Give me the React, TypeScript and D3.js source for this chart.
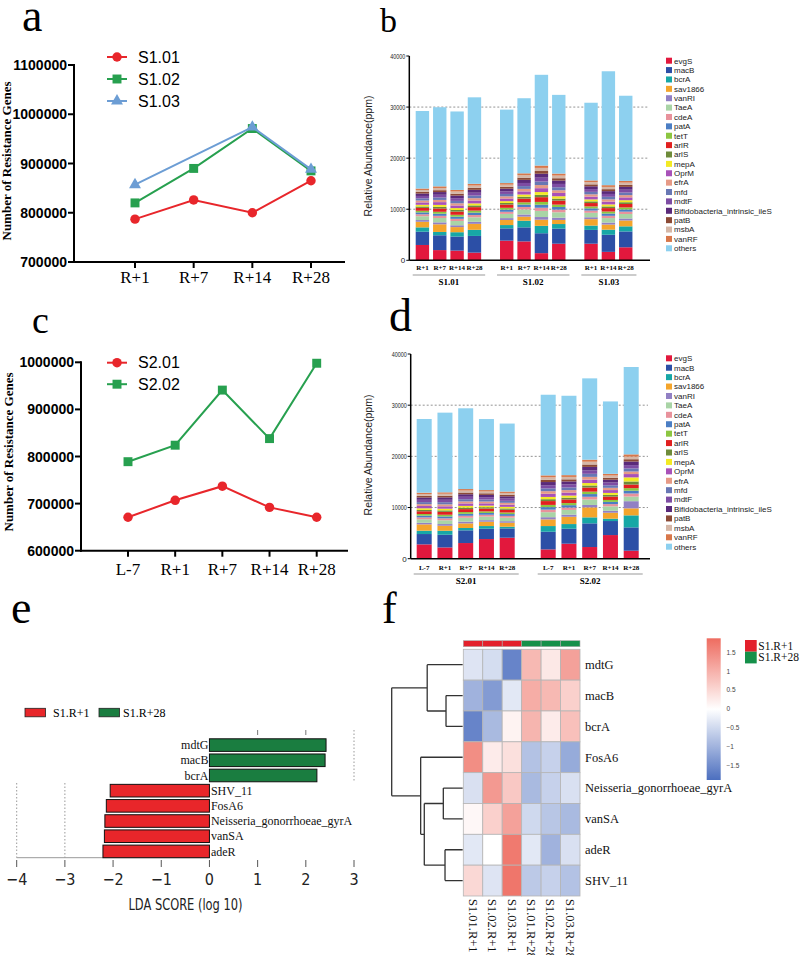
import React from "react";
import * as d3 from "d3";

const SERIF = "'Liberation Serif','Times New Roman',Times,serif";
const SANS = "'Liberation Sans',Arial,Helvetica,sans-serif";
const NARROW = "'Liberation Sans Narrow','DejaVu Sans Condensed','Roboto Condensed',Roboto,sans-serif";

// ---------- Panel a ----------
const A_TIMES = ["R+1", "R+7", "R+14", "R+28"];
const A_S101 = [787000, 826000, 800000, 865000];
const A_S102 = [820000, 890000, 971000, 885000];
const A_S103: (number | null)[] = [857000, null, 974000, 888000];
const A_YTICKS = [700000, 800000, 900000, 1000000, 1100000];

// ---------- Panel c ----------
const C_TIMES = ["L-7", "R+1", "R+7", "R+14", "R+28"];
const C_S201 = [671000, 707000, 737000, 692000, 671000];
const C_S202 = [789000, 824000, 941000, 838000, 998000];
const C_YTICKS = [600000, 700000, 800000, 900000, 1000000];

// ---------- Stacked bars (b, d) ----------
const GENES = ["evgS", "macB", "bcrA", "sav1866", "vanRI", "TaeA", "cdeA", "patA", "tetT", "arlR", "arlS", "mepA", "OprM", "efrA", "mfd", "mdtF", "Bifidobacteria_intrinsic_ileS", "patB", "msbA", "vanRF", "others"];
const GENE_COLORS = ["#e2183d", "#2c4fa6", "#17a7a6", "#f4a52c", "#9180c4", "#a9d4a6", "#e8929c", "#4b7ec4", "#8cc641", "#e1201f", "#6e8b3a", "#f3ea23", "#a851b8", "#e69a86", "#6877b4", "#7d4ca3", "#5a2a7a", "#8b4a36", "#d5b7a7", "#d8774a", "#8dd0ef"];
const BAR_YTICKS = [0, 10000, 20000, 30000, 40000];
const BAR_GRID = [10000, 20000, 30000];

// Panel b
const B_GROUPS = ["S1.01", "S1.02", "S1.03"];
const B_SAMPLE_GROUP = ["S1.01", "S1.01", "S1.01", "S1.01", "S1.02", "S1.02", "S1.02", "S1.02", "S1.03", "S1.03", "S1.03"];
const B_SAMPLE_TIME = ["R+1", "R+7", "R+14", "R+28", "R+1", "R+7", "R+14", "R+28", "R+1", "R+14", "R+28"];
const B_EVGS = [3000, 2000, 1900, 1500, 3850, 3700, 1400, 3250, 3250, 1650, 2550];
const B_MACB = [2600, 2900, 2750, 3270, 2400, 2750, 3900, 2950, 2700, 3350, 3100];
const B_BCRA = [850, 650, 850, 1200, 650, 1300, 1450, 900, 850, 1000, 1000];
const B_SAV1866 = [1100, 1500, 1000, 1170, 1000, 800, 1200, 800, 1250, 1000, 1150];
const B_VANRI = [330, 380, 360, 400, 360, 420, 520, 450, 380, 390, 390];
const B_TAEA = [750, 850, 840, 880, 830, 980, 1200, 1050, 870, 880, 880];
const B_CDEA = [380, 430, 420, 450, 410, 490, 620, 520, 440, 440, 450];
const B_PATA = [370, 420, 420, 460, 420, 480, 600, 520, 430, 450, 440];
const B_TETT = [320, 370, 370, 400, 360, 430, 540, 460, 380, 390, 390];
const B_ARLR = [560, 650, 620, 680, 630, 730, 930, 790, 660, 670, 680];
const B_ARLS = [280, 320, 320, 340, 310, 370, 460, 390, 330, 330, 340];
const B_MEPA = [330, 380, 370, 390, 360, 430, 540, 460, 380, 390, 390];
const B_OPRM = [470, 540, 520, 570, 520, 610, 760, 650, 550, 550, 560];
const B_EFRA = [370, 430, 420, 450, 420, 490, 610, 520, 440, 440, 440];
const B_MFD = [420, 480, 470, 510, 470, 550, 690, 590, 490, 500, 500];
const B_MDTF = [470, 530, 530, 560, 520, 610, 760, 650, 540, 560, 560];
const B_BIFIDO = [470, 530, 520, 570, 520, 610, 770, 660, 550, 550, 560];
const B_PATB = [330, 370, 370, 400, 360, 430, 530, 460, 380, 390, 390];
const B_MSBA = [370, 430, 420, 440, 420, 490, 610, 520, 440, 440, 440];
const B_VANRF = [280, 320, 310, 340, 310, 360, 460, 390, 330, 340, 340];
const B_OTHERS = [15180, 15490, 15360, 16930, 14380, 14700, 17770, 15410, 15210, 22300, 16670];

// Panel d
const D_GROUPS = ["S2.01", "S2.02"];
const D_SAMPLE_GROUP = ["S2.01", "S2.01", "S2.01", "S2.01", "S2.01", "S2.02", "S2.02", "S2.02", "S2.02", "S2.02"];
const D_SAMPLE_TIME = ["L-7", "R+1", "R+7", "R+14", "R+28", "L-7", "R+1", "R+7", "R+14", "R+28"];
const D_EVGS = [2800, 2200, 3060, 3840, 4100, 1820, 2930, 2280, 4620, 1560];
const D_MACB = [2020, 2480, 2480, 2020, 1820, 3450, 2930, 4630, 2740, 4560];
const D_BCRA = [650, 780, 460, 520, 330, 1110, 910, 1170, 460, 2350];
const D_SAV1866 = [1240, 980, 900, 850, 780, 1300, 1430, 1950, 1170, 1370];
const D_VANRI = [300, 330, 340, 300, 300, 430, 410, 470, 380, 1400];
const D_TAEA = [700, 740, 760, 700, 690, 980, 920, 1060, 860, 900];
const D_CDEA = [360, 380, 390, 360, 350, 500, 470, 540, 440, 600];
const D_PATA = [350, 370, 380, 350, 350, 490, 460, 530, 430, 550];
const D_TETT = [310, 330, 340, 310, 310, 430, 410, 470, 380, 500];
const D_ARLR = [540, 570, 580, 540, 530, 750, 710, 810, 660, 700];
const D_ARLS = [260, 280, 290, 270, 260, 370, 350, 400, 330, 600];
const D_MEPA = [320, 330, 340, 310, 310, 440, 410, 470, 390, 800];
const D_OPRM = [450, 470, 480, 450, 440, 620, 590, 670, 550, 650];
const D_EFRA = [360, 380, 390, 350, 350, 500, 470, 540, 440, 500];
const D_MFD = [400, 420, 430, 400, 390, 550, 520, 600, 490, 600];
const D_MDTF = [450, 470, 480, 450, 440, 620, 590, 670, 550, 650];
const D_BIFIDO = [450, 470, 490, 450, 440, 620, 590, 680, 550, 700];
const D_PATB = [310, 330, 340, 310, 310, 430, 410, 470, 380, 450];
const D_MSBA = [360, 380, 390, 360, 350, 500, 470, 540, 440, 500];
const D_VANRF = [270, 280, 290, 270, 270, 370, 350, 400, 330, 450];
const D_OTHERS = [14400, 15570, 15780, 13880, 13290, 15760, 15510, 15890, 14140, 17070];

// ---------- Panel e ----------
const E_FEATURES = ["mdtG", "macB", "bcrA", "SHV_11", "FosA6", "Neisseria_gonorrhoeae_gyrA", "vanSA", "adeR"];
const E_LDA = [2.42, 2.40, 2.23, -2.06, -2.14, -2.17, -2.18, -2.21];
const E_CLASS = ["S1.R+28", "S1.R+28", "S1.R+28", "S1.R+1", "S1.R+1", "S1.R+1", "S1.R+1", "S1.R+1"];
const E_CLASSES = ["S1.R+1", "S1.R+28"];
const E_TICKS = [-4, -3, -2, -1, 0, 1, 2, 3];

// ---------- Panel f ----------
const F_GENES = ["mdtG", "macB", "bcrA", "FosA6", "Neisseria_gonorrhoeae_gyrA", "vanSA", "adeR", "SHV_11"];
const F_SAMPLES = ["S1.01.R+1", "S1.02.R+1", "S1.03.R+1", "S1.01.R+28", "S1.02.R+28", "S1.03.R+28"];
const F_SAMPLE_GROUP = ["S1.R+1", "S1.R+1", "S1.R+1", "S1.R+28", "S1.R+28", "S1.R+28"];
const F_Z_MDTG = [-0.35, -0.45, -1.6, 0.9, 0.3, 1.2];
const F_Z_MACB = [-1.0, -1.3, -0.3, 1.05, 0.9, 0.6];
const F_Z_BCRA = [-1.6, -0.9, 0.15, 0.95, 0.25, 0.8];
const F_Z_FOSA6 = [1.45, 0.25, 0.4, -0.8, -0.6, -1.1];
const F_Z_NEISS = [-0.4, 1.3, 0.7, -0.9, -0.6, -0.4];
const F_Z_VANSA = [0.1, 0.6, 1.2, -0.5, -0.75, -0.9];
const F_Z_ADER = [-0.3, 0.0, 1.7, -0.3, -1.0, -0.4];
const F_Z_SHV11 = [0.5, -0.35, 1.75, -0.7, -0.6, -0.8];
const F_LEGEND_TICKS = [-1.5, -1, -0.5, 0, 0.5, 1, 1.5];
// dendrogram merge heights (relative)
const F_TREE = {
  h: 1.0,
  children: [
    { h: 0.5, children: [{ name: "mdtG", h: 0 }, { h: 0.235, children: [{ name: "macB", h: 0 }, { name: "bcrA", h: 0 }] }] },
    {
      h: 0.592,
      children: [
        { name: "FosA6", h: 0 },
        {
          h: 0.541,
          children: [
            { h: 0.273, children: [{ name: "Neisseria_gonorrhoeae_gyrA", h: 0 }, { name: "vanSA", h: 0 }] },
            { h: 0.249, children: [{ name: "adeR", h: 0 }, { name: "SHV_11", h: 0 }] },
          ],
        },
      ],
    },
  ],
};

const RED = "#e8262b";
const GREEN = "#27a04f";
const BLUE = "#6c9dd4";

type Series = { name: string; values: (number | null)[]; color: string; shape: string };

function Marker({ shape, x, y, color }: { shape: string; x: number; y: number; color: string }) {
  const sym = shape === "circle" ? d3.symbolCircle : shape === "square" ? d3.symbolSquare : d3.symbolTriangle;
  const size = shape === "circle" ? 70 : shape === "square" ? 80 : 62;
  return <path d={d3.symbol().type(sym).size(size)() as string} transform={`translate(${x},${y})`} fill={color} />;
}

function LinePanel(p: {
  times: string[];
  series: Series[];
  yTicks: number[];
  xRange: [number, number];
  yRange: [number, number];
  axisX: number;
  axisEnd: number;
  xLabelY: number;
  legendY: number;
  legendStep: number;
  titleX: number;
  titleY: number;
}) {
  const x = d3.scalePoint<string>().domain(p.times).range(p.xRange);
  const dom = d3.extent(p.yTicks) as [number, number];
  const y = d3.scaleLinear().domain(dom).range(p.yRange);
  const y0 = y(dom[0]);
  const line = d3
    .line<{ t: string; v: number }>()
    .x((d) => x(d.t) as number)
    .y((d) => y(d.v));
  return (
    <g>
      {p.series.map((s) => {
        const pts = p.times.map((t, i) => ({ t, v: s.values[i] })).filter((d) => d.v != null) as { t: string; v: number }[];
        return (
          <g key={s.name}>
            <path d={line(pts) as string} fill="none" stroke={s.color} strokeWidth={2} />
            {pts.map((d) => (
              <Marker key={d.t} shape={s.shape} x={x(d.t) as number} y={y(d.v)} color={s.color} />
            ))}
          </g>
        );
      })}
      <line x1={p.axisX} x2={p.axisX} y1={y(dom[1]) - 1} y2={y0 + 1} stroke="#000" strokeWidth={2} />
      <line x1={p.axisX - 1} x2={p.axisEnd} y1={y0} y2={y0} stroke="#000" strokeWidth={2} />
      {p.yTicks.map((t) => (
        <g key={t}>
          <line x1={p.axisX - 6} x2={p.axisX} y1={y(t)} y2={y(t)} stroke="#000" strokeWidth={2} />
          <text x={p.axisX - 7} y={y(t)} dy="0.36em" textAnchor="end" fontFamily={SANS} fontWeight="bold" fontSize={14}>
            {t}
          </text>
        </g>
      ))}
      {p.times.map((t) => (
        <g key={t}>
          <line x1={x(t)} x2={x(t)} y1={y0} y2={y0 + 6} stroke="#000" strokeWidth={2} />
          <text x={x(t)} y={p.xLabelY} textAnchor="middle" fontFamily={SERIF} fontSize={17}>
            {t}
          </text>
        </g>
      ))}
      <text
        transform={`translate(${p.titleX},${p.titleY}) rotate(-90)`}
        textAnchor="middle"
        fontFamily={SERIF}
        fontWeight="bold"
        fontSize={13}
      >
        Number of Resistance Genes
      </text>
      {p.series.map((s, i) => {
        const ly = p.legendY + i * p.legendStep;
        return (
          <g key={s.name}>
            <line x1={107} x2={127} y1={ly} y2={ly} stroke={s.color} strokeWidth={2} />
            <Marker shape={s.shape} x={117} y={ly} color={s.color} />
            <text x={138} y={ly} dy="0.36em" fontFamily={SANS} fontSize={16}>
              {s.name}
            </text>
          </g>
        );
      })}
    </g>
  );
}

function StackPanel(p: {
  groups: string[];
  sampleGroup: string[];
  sampleTime: string[];
  geneValues: number[][];
  yRange: [number, number];
  axisX: number;
  axisEnd: number;
  x0: number;
  step: number;
  barW: number;
  gapExtra: number;
  timeLabelY: number;
  underlineY: number;
  groupLabelY: number;
  legendY0: number;
  legendStep: number;
  titleY: number;
}) {
  const y = d3.scaleLinear().domain([0, 40000]).range(p.yRange);
  const slot = d3.scaleLinear().domain([0, 1]).range([p.x0, p.x0 + p.step]);
  const rows = p.sampleTime.map((_, i) => {
    const r: Record<string, number> = {};
    GENES.forEach((g, gi) => (r[g] = p.geneValues[gi][i]));
    return r;
  });
  const stacked = d3.stack<Record<string, number>>().keys(GENES)(rows);
  const xs = p.sampleTime.map((_, i) => slot(i + p.groups.indexOf(p.sampleGroup[i]) * p.gapExtra));
  const y0 = y(0);
  return (
    <g>
      {BAR_GRID.map((g) => (
        <line key={g} x1={p.axisX} x2={p.axisEnd - 2} y1={y(g)} y2={y(g)} stroke="#777" strokeWidth={0.8} strokeDasharray="2,2" />
      ))}
      {stacked.map((layer, li) => (
        <g key={GENES[li]} fill={GENE_COLORS[li]}>
          {layer.map((seg, i) => (
            <rect key={i} x={xs[i]} width={p.barW} y={y(seg[1])} height={Math.max(0, y(seg[0]) - y(seg[1]))} />
          ))}
        </g>
      ))}
      <line x1={p.axisX} x2={p.axisX} y1={y(40000)} y2={y0} stroke="#000" strokeWidth={1.5} />
      <line x1={p.axisX} x2={p.axisEnd} y1={y0} y2={y0} stroke="#000" strokeWidth={1.5} />
      {BAR_YTICKS.map((t) => (
        <g key={t}>
          <line x1={p.axisX - 3} x2={p.axisX} y1={y(t)} y2={y(t)} stroke="#000" strokeWidth={1} />
          <text
            x={p.axisX - 4}
            y={y(t)}
            dy="0.35em"
            textAnchor="end"
            fontFamily={SANS}
            fontSize={8}
            fill="#222"
            {...(String(t).length > 1 ? { textLength: 15, lengthAdjust: "spacingAndGlyphs" } : {})}
          >
            {t}
          </text>
        </g>
      ))}
      {p.sampleTime.map((t, i) => (
        <text key={i} x={xs[i] + p.barW / 2} y={p.timeLabelY} textAnchor="middle" fontFamily={SERIF} fontWeight="bold" fontSize={7}>
          {t}
        </text>
      ))}
      {p.groups.map((g) => {
        const idx = p.sampleGroup.map((sg, i) => (sg === g ? i : -1)).filter((i) => i >= 0);
        const left = xs[idx[0]] - 3;
        const right = xs[idx[idx.length - 1]] + p.barW + 4;
        return (
          <g key={g}>
            <line x1={left} x2={right} y1={p.underlineY} y2={p.underlineY} stroke="#999" strokeWidth={1.2} />
            <text x={(left + right) / 2} y={p.groupLabelY} textAnchor="middle" fontFamily={SERIF} fontWeight="bold" fontSize={9}>
              {g}
            </text>
          </g>
        );
      })}
      <text transform={`translate(372,${p.titleY}) rotate(-90)`} textAnchor="middle" fontFamily={SANS} fontSize={10.5} fill="#222">
        Relative Abundance(ppm)
      </text>
      {GENES.map((g, i) => {
        const ly = p.legendY0 + i * p.legendStep;
        return (
          <g key={g}>
            <rect x={666} y={ly - 3} width={6} height={6} fill={GENE_COLORS[i]} />
            <text x={674} y={ly} dy="0.35em" fontFamily={SANS} fontSize={8} fill="#222">
              {g}
            </text>
          </g>
        );
      })}
    </g>
  );
}

function PanelE() {
  const x = d3.scaleLinear().domain([-4, 3]).range([16.7, 354]);
  const y = d3.scaleBand<string>().domain(E_FEATURES).range([737.5, 859]).paddingInner(0.17).paddingOuter(0.085);
  const colorOf = (c: string) => (c === E_CLASSES[0] ? "#e8262a" : "#1a7d40");
  const x0 = x(0);
  const axisY = 857.7;
  return (
    <g>
      {E_CLASSES.map((c, i) => (
        <g key={c}>
          <rect x={i === 0 ? 25 : 99} y={708.3} width={20.5} height={8.5} fill={colorOf(c)} stroke="#222" strokeWidth={0.8} />
          <text x={i === 0 ? 53 : 123} y={716.7} fontFamily={SERIF} fontSize={12}>
            {c}
          </text>
        </g>
      ))}
      {[1, 2].map((t) => (
        <line key={t} x1={x(t)} x2={x(t)} y1={730} y2={735} stroke="#777" strokeWidth={1} />
      ))}
      <line x1={x(3)} x2={x(3)} y1={730} y2={781} stroke="#999" strokeWidth={1} strokeDasharray="1.5,2" />
      {[-4, -3].map((t) => (
        <line key={t} x1={x(t)} x2={x(t)} y1={783} y2={axisY} stroke="#999" strokeWidth={1} strokeDasharray="1.5,2" />
      ))}
      <line x1={x(-4)} x2={x0} y1={axisY} y2={axisY} stroke="#999" strokeWidth={1} />
      {E_FEATURES.map((f, i) => {
        const v = E_LDA[i];
        const by = y(f) as number;
        return (
          <g key={f}>
            <rect
              x={Math.min(x(v), x0)}
              y={by}
              width={Math.abs(x(v) - x0)}
              height={y.bandwidth()}
              fill={colorOf(E_CLASS[i])}
              stroke="#111"
              strokeWidth={1}
            />
            <text
              x={v > 0 ? x0 - 1 : x0 + 1.5}
              y={by + y.bandwidth() / 2}
              dy="0.35em"
              textAnchor={v > 0 ? "end" : "start"}
              fontFamily={SERIF}
              fontSize={12}
              fill="#111"
            >
              {f}
            </text>
          </g>
        );
      })}
      {E_TICKS.map((t) => (
        <g key={t}>
          <line x1={x(t)} x2={x(t)} y1={860} y2={867} stroke="#555" strokeWidth={1} />
          <text x={x(t)} y={885} textAnchor="middle" fontFamily={NARROW} fontSize={16} fill="#222">
            {t < 0 ? "\u2212" + Math.abs(t) : String(t)}
          </text>
        </g>
      ))}
      <text x={185.5} y={910} textAnchor="middle" fontFamily={NARROW} fontSize={16} fill="#222" textLength={114} lengthAdjust="spacingAndGlyphs">
        LDA SCORE (log 10)
      </text>
    </g>
  );
}

type TNode = { name?: string; h: number; children?: TNode[] };

function PanelF() {
  const Z = [F_Z_MDTG, F_Z_MACB, F_Z_BCRA, F_Z_FOSA6, F_Z_NEISS, F_Z_VANSA, F_Z_ADER, F_Z_SHV11];
  const x = d3.scaleBand<string>().domain(F_SAMPLES).range([463.3, 580]);
  const y = d3.scaleBand<string>().domain(F_GENES).range([649.3, 896]);
  const color = d3.scaleLinear<string>().domain([-1.88, 0, 1.88]).range(["#4c6fbf", "#ffffff", "#ee6c60"]).clamp(true);
  const hx = d3.scaleLinear().domain([0, 1]).range([462.7, 391.7]);
  const lg = d3.scaleLinear().domain([-1.5, 1.5]).range([765.4, 652.6]);

  const root = d3.hierarchy<TNode>(F_TREE as TNode);
  const nodeY = new Map<any, number>();
  root.eachAfter((n) => {
    if (!n.children) nodeY.set(n, (y(n.data.name as string) as number) + y.bandwidth() / 2);
    else nodeY.set(n, (nodeY.get(n.children[0])! + nodeY.get(n.children[n.children.length - 1])!) / 2);
  });
  const segs: string[] = [];
  root.each((n) => {
    if (!n.children) return;
    const xn = hx(n.data.h);
    const ys = n.children.map((c) => nodeY.get(c)!);
    segs.push(`M${xn},${d3.min(ys)}V${d3.max(ys)}`);
    n.children.forEach((c) => segs.push(`M${xn},${nodeY.get(c)}H${hx(c.data.h)}`));
  });

  const gradStops = d3.range(0, 21).map((i) => {
    const v = 1.88 - (i / 20) * 3.76;
    return <stop key={i} offset={`${i * 5}%`} stopColor={color(v)} />;
  });
  const groupColor = (g: string) => (g === "S1.R+1" ? "#e3202b" : "#15904a");

  return (
    <g>
      <defs>
        <linearGradient id="fgrad" x1="0" y1="0" x2="0" y2="1">
          {gradStops}
        </linearGradient>
      </defs>
      <path d={segs.join("")} fill="none" stroke="#333" strokeWidth={1.3} />
      {F_SAMPLES.map((s, i) => (
        <rect key={s} x={x(s)} y={640.7} width={x.bandwidth()} height={6} fill={groupColor(F_SAMPLE_GROUP[i])} stroke="#aaa" strokeWidth={0.6} />
      ))}
      {F_GENES.map((g, r) =>
        F_SAMPLES.map((s, c) => (
          <rect key={g + s} x={x(s)} y={y(g)} width={x.bandwidth()} height={y.bandwidth()} fill={color(Z[r][c])} stroke="#b5b5b5" strokeWidth={0.8} />
        ))
      )}
      {F_GENES.map((g) => (
        <text key={g} x={585} y={(y(g) as number) + y.bandwidth() / 2} dy="0.35em" fontFamily={SERIF} fontSize={12.5} fill="#111">
          {g}
        </text>
      ))}
      {F_SAMPLES.map((s) => (
        <text
          key={s}
          transform={`translate(${(x(s) as number) + x.bandwidth() / 2},899) rotate(90)`}
          dy="0.35em"
          fontFamily={SERIF}
          fontSize={12.5}
          fill="#111"
        >
          {s}
        </text>
      ))}
      <rect x={706.7} y={638.3} width={14} height={141.7} fill="url(#fgrad)" />
      {F_LEGEND_TICKS.map((t) => (
        <text key={t} x={726.5} y={lg(t)} dy="0.35em" fontFamily={SANS} fontSize={6.5} fill="#444">
          {t < 0 ? "\u2212" + Math.abs(t) : String(t)}
        </text>
      ))}
      {["S1.R+1", "S1.R+28"].map((g, i) => (
        <g key={g}>
          <rect x={745} y={640 + i * 11.7} width={11.7} height={11.7} fill={groupColor(g)} />
          <text x={758.3} y={649.5 + i * 11.3} fontFamily={SERIF} fontSize={11.5} fill="#111">
            {g}
          </text>
        </g>
      ))}
    </g>
  );
}

export default function App() {
  const bGenes = [B_EVGS, B_MACB, B_BCRA, B_SAV1866, B_VANRI, B_TAEA, B_CDEA, B_PATA, B_TETT, B_ARLR, B_ARLS, B_MEPA, B_OPRM, B_EFRA, B_MFD, B_MDTF, B_BIFIDO, B_PATB, B_MSBA, B_VANRF, B_OTHERS];
  const dGenes = [D_EVGS, D_MACB, D_BCRA, D_SAV1866, D_VANRI, D_TAEA, D_CDEA, D_PATA, D_TETT, D_ARLR, D_ARLS, D_MEPA, D_OPRM, D_EFRA, D_MFD, D_MDTF, D_BIFIDO, D_PATB, D_MSBA, D_VANRF, D_OTHERS];
  const panelLabel = (t: string, x: number, y: number, size: number) => (
    <text x={x} y={y} fontFamily={SERIF} fontSize={size}>
      {t}
    </text>
  );
  return (
    <svg width={800} height={955} style={{ position: "absolute", left: 0, top: 0, background: "#fff" }}>
      <rect width={800} height={955} fill="#fff" />
      {panelLabel("a", 22, 31, 46)}
      {panelLabel("b", 380, 32, 34)}
      {panelLabel("c", 32, 333, 38)}
      {panelLabel("d", 389, 331, 46)}
      {panelLabel("e", 11, 623, 46)}
      {panelLabel("f", 382, 623, 44)}
      <LinePanel
        times={A_TIMES}
        series={[
          { name: "S1.01", values: A_S101, color: RED, shape: "circle" },
          { name: "S1.02", values: A_S102, color: GREEN, shape: "square" },
          { name: "S1.03", values: A_S103, color: BLUE, shape: "triangle" },
        ]}
        yTicks={A_YTICKS}
        xRange={[135, 311]}
        yRange={[262, 65]}
        axisX={74}
        axisEnd={345}
        xLabelY={283}
        legendY={57}
        legendStep={22}
        titleX={11}
        titleY={161}
      />
      <LinePanel
        times={C_TIMES}
        series={[
          { name: "S2.01", values: C_S201, color: RED, shape: "circle" },
          { name: "S2.02", values: C_S202, color: GREEN, shape: "square" },
        ]}
        yTicks={C_YTICKS}
        xRange={[128, 316.7]}
        yRange={[550.7, 362.3]}
        axisX={81}
        axisEnd={348}
        xLabelY={575}
        legendY={362.7}
        legendStep={21.5}
        titleX={12.5}
        titleY={452}
      />
      <StackPanel
        groups={B_GROUPS}
        sampleGroup={B_SAMPLE_GROUP}
        sampleTime={B_SAMPLE_TIME}
        geneValues={bGenes}
        yRange={[260.3, 56]}
        axisX={409.3}
        axisEnd={650}
        x0={415.7}
        step={17.35}
        barW={13.4}
        gapExtra={0.86}
        timeLabelY={270}
        underlineY={275}
        groupLabelY={285}
        legendY0={60.7}
        legendStep={9.38}
        titleY={156}
      />
      <StackPanel
        groups={D_GROUPS}
        sampleGroup={D_SAMPLE_GROUP}
        sampleTime={D_SAMPLE_TIME}
        geneValues={dGenes}
        yRange={[558.7, 354]}
        axisX={410.7}
        axisEnd={650}
        x0={416.7}
        step={20.75}
        barW={15}
        gapExtra={0.976}
        timeLabelY={570}
        underlineY={574}
        groupLabelY={583.5}
        legendY0={358.3}
        legendStep={9.42}
        titleY={455}
      />
      <PanelE />
      <PanelF />
    </svg>
  );
}
